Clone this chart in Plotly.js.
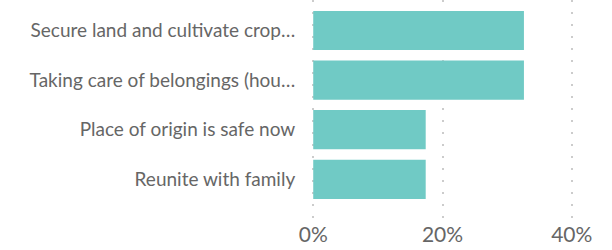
<!DOCTYPE html>
<html><head><meta charset="utf-8">
<script src="https://cdn.plot.ly/plotly-3.0.1.min.js"></script>
<style>html,body{margin:0;padding:0;background:#fff}#c{width:612px;height:250px}</style>
</head><body><div id="c"></div>
<script>
const categories = ["Secure land and cultivate crop…", "Taking care of belongings (hou…", "Place of origin is safe now", "Reunite with family"];
const values = [32.6, 32.6, 17.4, 17.4];
const xTickVals = [0, 20, 40];
const xTickText = ["0%", "20%", "40%"];

Plotly.newPlot("c", [{
  type: "bar", orientation: "h",
  y: categories, x: values,
  marker: {color: "#70cac5"},
  hoverinfo: "none"
}], {
  width: 612, height: 250,
  margin: {l: 310, r: 37, t: 0, b: 30},
  bargap: 0.21,
  paper_bgcolor: "#fff", plot_bgcolor: "#fff",
  font: {family: "Lato, 'Open Sans', sans-serif", color: "#666", size: 19},
  showlegend: false,
  xaxis: {range: [-0.5, 40.5], tickvals: xTickVals, ticktext: xTickText,
    showgrid: true, gridcolor: "#cccccc", gridwidth: 2, griddash: "2px,10px",
    zeroline: false, showline: false, ticks: "",
    tickfont: {size: 21, color: "#666"}},
  yaxis: {type: "category", categoryorder: "array", categoryarray: categories,
    range: [3.82, -0.615], showgrid: false, zeroline: false, showline: false,
    ticks: "outside", ticklen: 10, tickcolor: "rgba(0,0,0,0)", tickfont: {size: 19, color: "#666"}}
}, {staticPlot: true});
</script></body></html>
